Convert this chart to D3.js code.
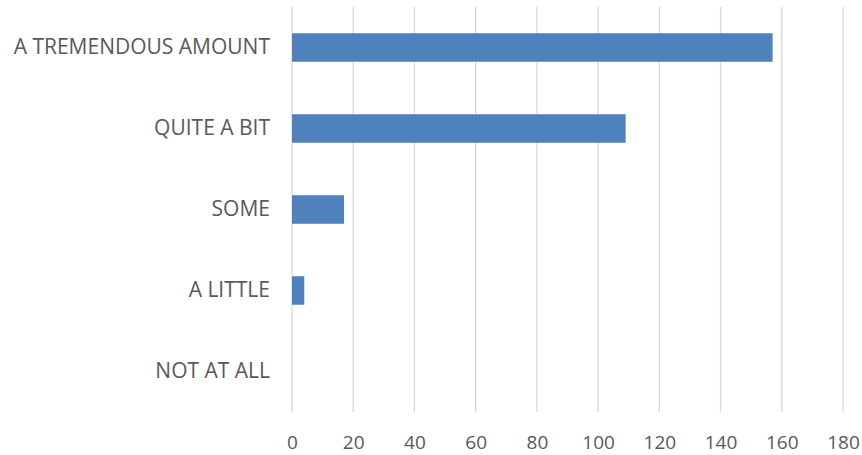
<!DOCTYPE html>
<html>
<head>
<meta charset="utf-8">
<script src="https://cdn.jsdelivr.net/npm/d3@7"></script>
<style>
  body { margin: 0; background: #fff; }
  text { font-family: "Open Sans", sans-serif; fill: #595959; }
</style>
</head>
<body>
<div id="chart"></div>
<script>
const categories = ['A TREMENDOUS AMOUNT', 'QUITE A BIT', 'SOME', 'A LITTLE', 'NOT AT ALL'];
const values = [157, 109, 17, 4, 0];
const xTicks = [0, 20, 40, 60, 80, 100, 120, 140, 160, 180];

const width = 862, height = 455;
const margin = {t: 7, r: 19, b: 43, l: 292};
const w = width - margin.l - margin.r;
const h = height - margin.t - margin.b;

const svg = d3.select('#chart').append('svg')
  .attr('width', width)
  .attr('height', height);
const plot = svg.append('g')
  .attr('transform', `translate(${margin.l},${margin.t})`);

const scaleX = d3.scaleLinear().domain([0, 180]).range([0, w]);
const scaleY = d3.scaleBand().domain(categories).range([0, h])
  .paddingInner(0.648).paddingOuter(0.324);

// gridlines
plot.selectAll('.grid')
  .data(xTicks)
  .enter().append('line')
  .attr('class', 'grid')
  .attr('x1', d => scaleX(d)).attr('x2', d => scaleX(d))
  .attr('y1', 0).attr('y2', h)
  .style('stroke', '#d9d9d9')
  .style('stroke-width', 1.3);

// bars
plot.selectAll('.bar')
  .data(values)
  .enter().append('rect')
  .attr('class', 'bar')
  .attr('x', 0)
  .attr('y', (d, i) => scaleY(categories[i]))
  .attr('width', d => scaleX(d))
  .attr('height', scaleY.bandwidth())
  .style('fill', '#4f81bd');

// x axis
const axisX = d3.axisBottom(scaleX).tickValues(xTicks).tickSize(0).tickPadding(24);
const axisXNode = plot.append('g')
  .attr('class', 'axis-x')
  .attr('transform', `translate(0,${h})`)
  .call(axisX);
axisXNode.select('.domain').remove();
axisXNode.selectAll('text')
  .style('font-size', '19px')
  .style('font-family', '"Open Sans", sans-serif')
  .style('fill', '#595959');

// y axis
const axisY = d3.axisLeft(scaleY).tickSize(0).tickPadding(22);
const axisYNode = plot.append('g')
  .attr('class', 'axis-y')
  .call(axisY);
axisYNode.select('.domain').remove();
axisYNode.selectAll('text')
  .style('font-size', '21px')
  .style('font-family', '"Open Sans", sans-serif')
  .style('fill', '#595959');
</script>
</body>
</html>
